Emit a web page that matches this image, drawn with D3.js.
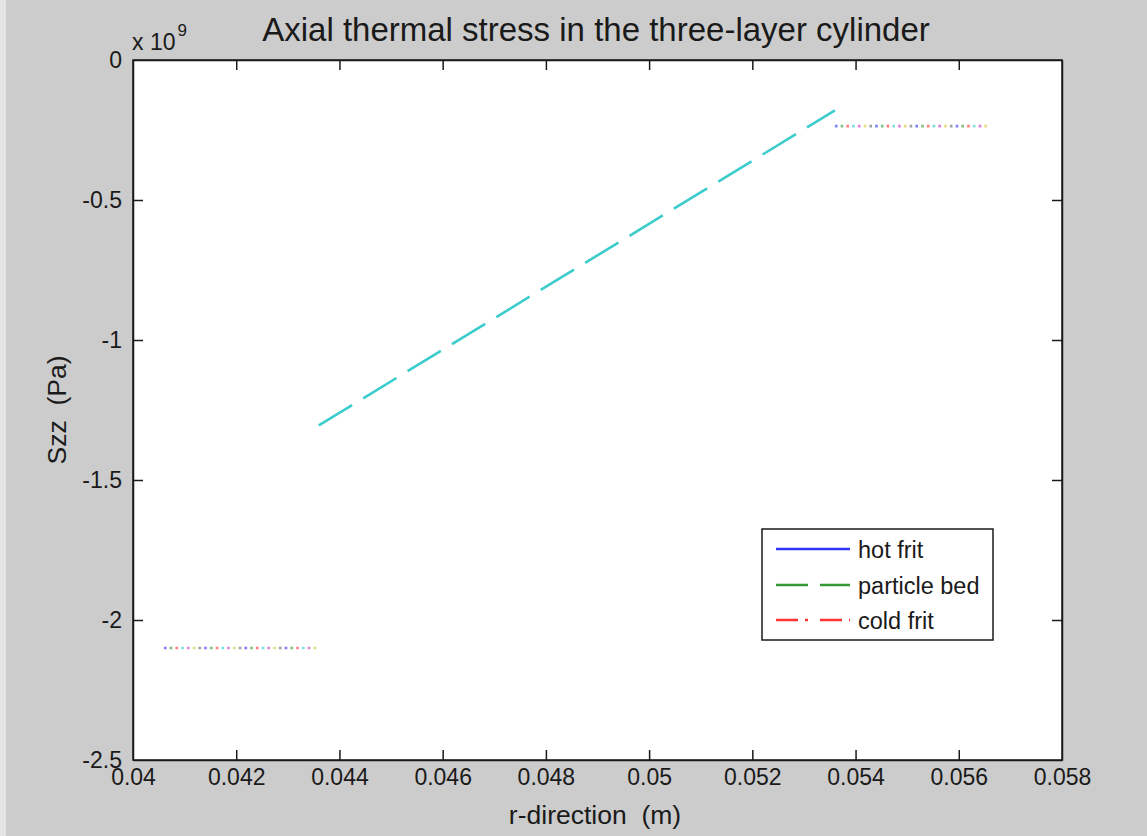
<!DOCTYPE html>
<html>
<head>
<meta charset="utf-8">
<script src="https://cdn.jsdelivr.net/npm/d3@7"></script>
<style>
  html, body { margin: 0; padding: 0; background: #cccccc; }
  svg { display: block; }
  text { font-family: "Liberation Sans", Arial, sans-serif; fill: #1a1a1a; white-space: pre; }
</style>
</head>
<body>
<svg id="chart" width="1147" height="836"></svg>
<script>
// ---- data ----
const title = "Axial thermal stress in the three-layer cylinder";
const xLabel = "r-direction  (m)";
const yLabel = "Szz  (Pa)";
const xTicks = [0.04, 0.042, 0.044, 0.046, 0.048, 0.05, 0.052, 0.054, 0.056, 0.058];
const xTickLabels = ["0.04", "0.042", "0.044", "0.046", "0.048", "0.05", "0.052", "0.054", "0.056", "0.058"];
const yTicks = [0, -0.5e9, -1e9, -1.5e9, -2e9, -2.5e9];
const yTickLabels = ["0", "-0.5", "-1", "-1.5", "-2", "-2.5"];
const legendNames = ["hot frit", "particle bed", "cold frit"];

const hotR = [0.0406, 0.0436];
const hotS = [-2.1e9, -2.1e9];
const bedR = [0.0436, 0.0536];
const bedS = [-1.305e9, -0.18e9];
const coldR = [0.0536, 0.0566];
const coldS = [-0.236e9, -0.236e9];

const dotColors = ["#0000ff", "#008000", "#ff0000", "#00bfbf", "#bf00bf", "#bfbf00", "#404040"];

// ---- layout ----
const svg = d3.select("#chart");
const W = 1147, H = 836;
const m = { left: 133, right: 1062, top: 60, bottom: 760 };

svg.append("rect").attr("x", 0).attr("y", 0).attr("width", W).attr("height", H).attr("fill", "#cccccc");
svg.append("rect").attr("x", 0).attr("y", 0).attr("width", 6).attr("height", H).attr("fill", "#e4e4e4");

const x = d3.scaleLinear().domain([0.04, 0.058]).range([m.left, m.right]);
const y = d3.scaleLinear().domain([-2.5e9, 0]).range([m.bottom, m.top]);

svg.append("rect")
  .attr("x", m.left).attr("y", m.top)
  .attr("width", m.right - m.left).attr("height", m.bottom - m.top)
  .attr("fill", "#ffffff");

// ---- axes (ticks inward, on all four sides) ----
const tickLen = 10;
const fmtX = (d, i) => xTickLabels[i];
const fmtY = (d, i) => yTickLabels[i];

function styleAxis(g) {
  g.selectAll(".domain").attr("stroke", "#1a1a1a").attr("stroke-width", 1.5);
  g.selectAll(".tick line").attr("stroke", "#1a1a1a").attr("stroke-width", 1.5);
  g.selectAll("text").style("font-family", "'Liberation Sans', Arial, sans-serif")
    .style("font-size", "23px").attr("fill", "#1a1a1a");
}

const gxB = svg.append("g").attr("transform", `translate(0,${m.bottom})`)
  .call(d3.axisBottom(x).tickValues(xTicks).tickFormat(fmtX).tickSizeInner(-tickLen).tickSizeOuter(0).tickPadding(9));
styleAxis(gxB);

const gxT = svg.append("g").attr("transform", `translate(0,${m.top})`)
  .call(d3.axisTop(x).tickValues(xTicks).tickFormat("").tickSizeInner(-tickLen).tickSizeOuter(0));
styleAxis(gxT);

const gyL = svg.append("g").attr("transform", `translate(${m.left},0)`)
  .call(d3.axisLeft(y).tickValues(yTicks).tickFormat(fmtY).tickSizeInner(-tickLen).tickSizeOuter(0).tickPadding(11));
styleAxis(gyL);

const gyR = svg.append("g").attr("transform", `translate(${m.right},0)`)
  .call(d3.axisRight(y).tickValues(yTicks).tickFormat("").tickSizeInner(-tickLen).tickSizeOuter(0));
styleAxis(gyR);

[gxB, gxT, gyL, gyR].forEach(g => g.selectAll(".tick line").filter(function(d) {
  return d === 0.04 || d === 0.058 || d === 0 || d === -2.5e9;
}).attr("opacity", 0));

// exponent label
const expG = svg.append("text").attr("x", 132).attr("y", 50).style("font-size", "23px");
expG.append("tspan").text("x 10");
expG.append("tspan").attr("dy", -14).attr("dx", 2).style("font-size", "17px").text("9");

// ---- lines ----
const line = d3.line().x(d => x(d[0])).y(d => y(d[1]));
const hotPts = d3.zip(hotR, hotS);
const bedPts = d3.zip(bedR, bedS);
const coldPts = d3.zip(coldR, coldS);

const plot = svg.append("g");

const dotStep = 5.75;
[hotPts, coldPts].forEach(pts => {
  dotColors.forEach((c, i) => {
    plot.append("path")
      .attr("d", line(pts))
      .attr("fill", "none")
      .attr("stroke", c)
      .attr("stroke-opacity", 0.5)
      .attr("stroke-width", 2.6)
      .attr("stroke-dasharray", `2.6 ${dotStep * dotColors.length - 2.6}`)
      .attr("stroke-dashoffset", -i * dotStep);
  });
});

plot.append("path")
  .attr("d", line(bedPts))
  .attr("fill", "none")
  .attr("stroke", "#3ccccc")
  .attr("stroke-width", 2.6)
  .attr("stroke-dasharray", "39 13");

// ---- frame on top ----
svg.append("rect")
  .attr("x", m.left).attr("y", m.top)
  .attr("width", m.right - m.left).attr("height", m.bottom - m.top)
  .attr("fill", "none").attr("stroke", "#1a1a1a").attr("stroke-width", 1.5);

// ---- titles ----
svg.append("text").attr("x", 596).attr("y", 41).attr("text-anchor", "middle")
  .style("font-size", "33px").text(title);
svg.append("text").attr("x", 595).attr("y", 824).attr("text-anchor", "middle")
  .style("font-size", "26.5px").text(xLabel);
svg.append("text").attr("transform", "translate(66,410) rotate(-90)").attr("text-anchor", "middle")
  .style("font-size", "26.5px").text(yLabel);

// ---- legend ----
const lg = svg.append("g");
lg.append("rect").attr("x", 762).attr("y", 529).attr("width", 231).attr("height", 111)
  .attr("fill", "#ffffff").attr("stroke", "#1a1a1a").attr("stroke-width", 1.5);
const legStyles = [
  { color: "#0000ff", dash: null },
  { color: "#008000", dash: "32 12" },
  { color: "#ff0000", dash: "22 7 3 12" }
];
const legY = [549, 585, 620];
legendNames.forEach((name, i) => {
  lg.append("line").attr("x1", 776).attr("x2", 850).attr("y1", legY[i]).attr("y2", legY[i])
    .attr("stroke", legStyles[i].color).attr("stroke-width", 2.4).attr("stroke-opacity", 0.8)
    .attr("stroke-dasharray", legStyles[i].dash);
  lg.append("text").attr("x", 858).attr("y", legY[i] + 9).style("font-size", "23.5px").text(name);
});
</script>
</body>
</html>
